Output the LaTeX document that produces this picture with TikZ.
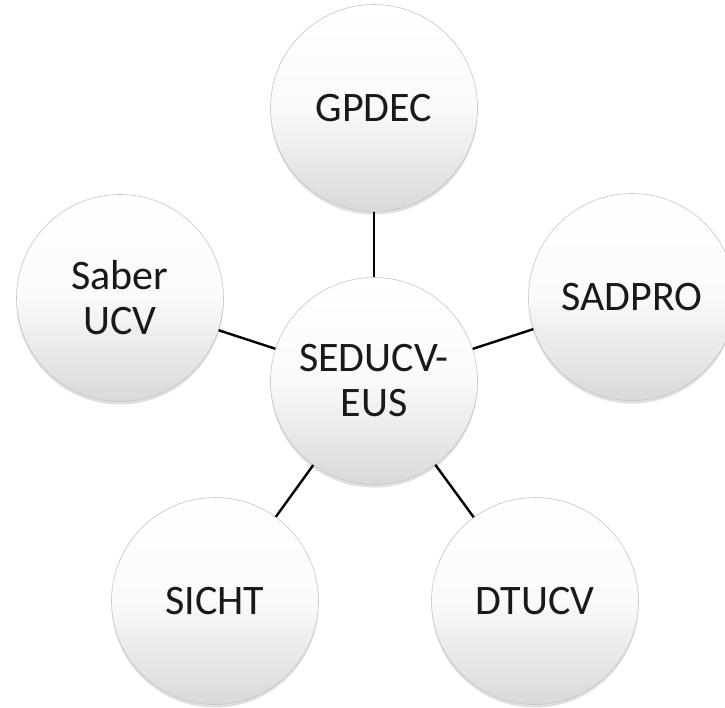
\documentclass[tikz,border=0pt]{standalone}
\usepackage{fontspec}
\setmainfont{Carlito}
\usetikzlibrary{shadows}
\begin{document}
\begin{tikzpicture}[x=1pt,y=-1pt,
  ball/.style={circle, minimum size=207pt, inner sep=0pt, align=center,
    draw=gray!45, line width=0.6pt,
    top color=white, bottom color=gray!30, middle color=white!96!gray,
    drop shadow={shadow xshift=0pt, shadow yshift=-3pt, opacity=0.25, fill=gray},
    font=\fontsize{42}{45}\selectfont, text=black!90},
  link/.style={line width=2.4pt, black}]
\useasboundingbox (0,0) rectangle (725,708);
\clip (0,0) rectangle (725,708);
\fill[white] (0,0) rectangle (725,708);
\node[ball] (c) at (374,381) {SEDUCV-\\EUS};
\node[ball] (g) at (374,108) {GPDEC};
\node[ball] (s) at (632,297) {SADPRO};
\node[ball] (u) at (120,298) {Saber\\UCV};
\node[ball] (i) at (215,601) {SICHT};
\node[ball] (d) at (535,601) {DTUCV};
\draw[link] (c) -- (g);
\draw[link] (c) -- (s);
\draw[link] (c) -- (u);
\draw[link] (c) -- (i);
\draw[link] (c) -- (d);
\end{tikzpicture}
\end{document}
